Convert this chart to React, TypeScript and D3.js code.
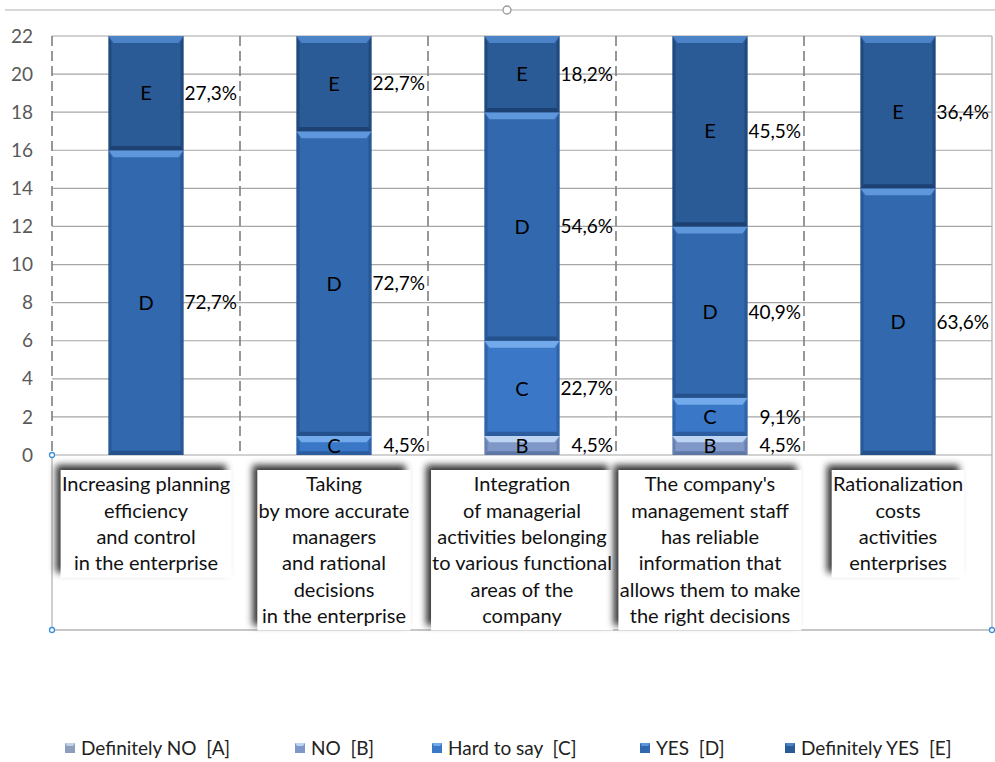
import React, { useEffect, useRef } from "react";
import * as d3 from "d3";

const categories: string[][] = [
  ["Increasing planning", "efficiency", "and control", "in the enterprise"],
  ["Taking", "by more accurate", "managers", "and rational", "decisions", "in the enterprise"],
  ["Integration", "of managerial", "activities belonging", "to various functional", "areas of the", "company"],
  ["The company's", "management staff", "has reliable", "information that", "allows them to make", "the right decisions"],
  ["Rationalization", "costs", "activities", "enterprises"],
];
const seriesKeys = ["A", "B", "C", "D", "E"];
const seriesNames = ["Definitely NO  [A]", "NO  [B]", "Hard to say  [C]", "YES  [D]", "Definitely YES  [E]"];
const valA = [0, 0, 0, 0, 0];
const valB = [0, 0, 1, 1, 0];
const valC = [0, 1, 5, 2, 0];
const valD = [16, 16, 12, 9, 14];
const valE = [6, 5, 4, 10, 8];
const pctA = ["", "", "", "", ""];
const pctB = ["", "", "4,5%", "4,5%", ""];
const pctC = ["", "4,5%", "22,7%", "9,1%", ""];
const pctD = ["72,7%", "72,7%", "54,6%", "40,9%", "63,6%"];
const pctE = ["27,3%", "22,7%", "18,2%", "45,5%", "36,4%"];
const yTicks = [0, 2, 4, 6, 8, 10, 12, 14, 16, 18, 20, 22];

const FONT = "Lato, 'Open Sans', sans-serif";
const colors: Record<string, { main: string; light: string; dark: string }> = {
  A: { main: "#8e9fbd", light: "#c3d0e6", dark: "#6f7f9c" },
  B: { main: "#7f98c8", light: "#bcd3f2", dark: "#5f77a6" },
  C: { main: "#3a77c6", light: "#72aaec", dark: "#2a5c9e" },
  D: { main: "#3268ad", light: "#5e97dc", dark: "#24518c" },
  E: { main: "#2b5b97", light: "#4c82c6", dark: "#1d4173" },
};

export default function App() {
  const ref = useRef<SVGSVGElement>(null);

  useEffect(() => {
    const svg = d3.select(ref.current);
    svg.selectAll("*").remove();

    const left = 52, right = 992, top = 36, bottom = 455;
    const x = d3.scaleBand<number>().domain(d3.range(categories.length)).range([left, right]).paddingInner(0).paddingOuter(0);
    const y = d3.scaleLinear().domain([0, 22]).range([bottom, top]);
    const barW = 75;

    const defs = svg.append("defs");
    const f = defs.append("filter").attr("id", "sh").attr("x", "-20%").attr("y", "-20%").attr("width", "140%").attr("height", "140%");
    f.append("feDropShadow").attr("dx", -5).attr("dy", -5).attr("stdDeviation", 3.5).attr("flood-color", "#000").attr("flood-opacity", 0.8);

    // top line
    svg.append("line").attr("x1", 5).attr("x2", 995).attr("y1", 10).attr("y2", 10).attr("stroke", "#b0b0b0").attr("stroke-width", 1.2);
    svg.append("circle").attr("cx", 507).attr("cy", 10).attr("r", 4).attr("fill", "#fff").attr("stroke", "#999").attr("stroke-width", 1.3);

    // gridlines
    svg.append("g").selectAll("line").data(yTicks).join("line")
      .attr("x1", left).attr("x2", right)
      .attr("y1", (d) => y(d)).attr("y2", (d) => y(d))
      .attr("stroke", "#a6a6a6").attr("stroke-width", 1.2);

    // y tick labels
    svg.append("g").selectAll("text").data(yTicks).join("text")
      .attr("x", 33).attr("y", (d) => y(d)).attr("dy", "0.35em")
      .attr("text-anchor", "end").attr("font-family", FONT).attr("font-size", 19).attr("fill", "#595959")
      .text((d) => String(d));

    // bottom box
    svg.append("path").attr("d", `M${left},${bottom}V630H${right}V${top}`)
      .attr("fill", "none").attr("stroke", "#b5b5b5").attr("stroke-width", 1.3);

    // vertical dashed dividers
    const divs = d3.range(categories.length + 1).map((i) => left + x.bandwidth() * i);
    svg.append("g").selectAll("line").data(divs.slice(0, categories.length)).join("line")
      .attr("x1", (d) => d).attr("x2", (d) => d).attr("y1", top).attr("y2", bottom)
      .attr("stroke", "#7f7f7f").attr("stroke-width", 1.6).attr("stroke-dasharray", "10,5");

    // bars
    const vals = [valA, valB, valC, valD, valE];
    const pcts = [pctA, pctB, pctC, pctD, pctE];
    const gBars = svg.append("g");
    const gLab = svg.append("g");
    categories.forEach((_, ci) => {
      let cum = 0;
      const cx = (x(ci) as number) + x.bandwidth() / 2;
      const x0 = cx - barW / 2, x1 = cx + barW / 2;
      seriesKeys.forEach((k, si) => {
        const v = vals[si][ci];
        if (!v) return;
        const yb = y(cum), yt = y(cum + v);
        cum += v;
        const c = colors[k];
        const h = yb - yt;
        const bev = Math.min(7, h / 3);
        const side = 3;
        const g = gBars.append("g");
        g.append("rect").attr("x", x0).attr("y", yt).attr("width", barW).attr("height", h).attr("fill", c.main);
        g.append("polygon").attr("points", `${x0},${yb} ${x1},${yb} ${x1 - side},${yb - bev * 0.6} ${x0 + side},${yb - bev * 0.6}`).attr("fill", c.dark);
        g.append("polygon").attr("points", `${x0},${yt} ${x0 + side},${yt + bev} ${x0 + side},${yb - bev * 0.6} ${x0},${yb}`).attr("fill", c.dark).attr("opacity", 0.7);
        g.append("polygon").attr("points", `${x1},${yt} ${x1 - side},${yt + bev} ${x1 - side},${yb - bev * 0.6} ${x1},${yb}`).attr("fill", c.dark).attr("opacity", 0.7);
        g.append("polygon").attr("points", `${x0},${yt} ${x1},${yt} ${x1 - side - 2},${yt + bev} ${x0 + side + 2},${yt + bev}`).attr("fill", c.light);
        const ym = (yt + yb) / 2;
        gLab.append("text").attr("x", cx).attr("y", ym).attr("dy", "0.36em").attr("text-anchor", "middle")
          .attr("font-family", FONT).attr("font-size", 20).attr("fill", "#000").text(k);
        if (pcts[si][ci]) {
          gLab.append("text").attr("x", divs[ci + 1] - 3).attr("y", ym).attr("dy", "0.36em").attr("text-anchor", "end")
            .attr("font-family", FONT).attr("font-size", 19).attr("fill", "#000").text(pcts[si][ci]);
        }
      });
    });

    // category label boxes
    const lineH = 26.4;
    const boxTop = 470;
    const gCat = svg.append("g");
    categories.forEach((lines, ci) => {
      const cx = (x(ci) as number) + x.bandwidth() / 2;
      const g = gCat.append("g");
      const rect = g.append("rect").attr("fill", "#fff").attr("filter", "url(#sh)");
      const t = g.append("text").attr("font-family", FONT).attr("font-size", 20).attr("fill", "#111").attr("text-anchor", "middle");
      lines.forEach((ln, li) => {
        t.append("tspan").attr("x", cx).attr("y", boxTop + 14 + li * lineH).attr("dy", "0.36em").text(ln);
      });
      const bb = (t.node() as SVGTextElement).getBBox();
      const w = bb.width + 2;
      rect.attr("x", cx - w / 2).attr("y", boxTop).attr("width", w).attr("height", lines.length * lineH + 2);
    });

    // corner handles
    [[left, bottom], [left, 630], [right, 630]].forEach(([hx, hy]) => {
      svg.append("circle").attr("cx", hx).attr("cy", hy).attr("r", 2.5).attr("fill", "#fff").attr("stroke", "#3b8fd9").attr("stroke-width", 1.3);
    });

    // legend
    const legX = [65, 295, 432, 640, 785];
    const gLeg = svg.append("g");
    seriesKeys.forEach((k, si) => {
      const c = colors[k];
      const lx = legX[si];
      gLeg.append("rect").attr("x", lx).attr("y", 743).attr("width", 10).attr("height", 10).attr("fill", c.main);
      gLeg.append("polygon").attr("points", `${lx},743 ${lx + 10},743 ${lx + 8},746 ${lx + 2},746`).attr("fill", c.light);
      gLeg.append("text").attr("x", lx + 16).attr("y", 748).attr("dy", "0.36em").attr("font-family", FONT)
        .attr("font-size", 19).attr("fill", "#222").style("white-space", "pre").text(seriesNames[si]);
    });
  }, []);

  return (
    <svg ref={ref} width={995} height={762} style={{ position: "absolute", left: 0, top: 0, background: "#fff" }} />
  );
}
